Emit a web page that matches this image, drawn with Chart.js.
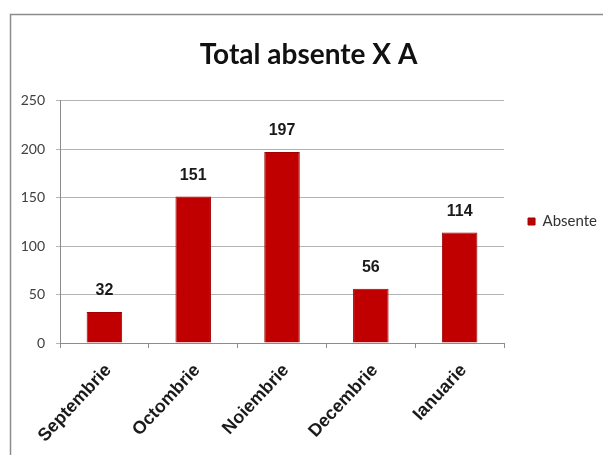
<!DOCTYPE html>
<html>
<head>
<meta charset="utf-8">
<script src="https://cdn.jsdelivr.net/npm/chart.js@4/dist/chart.umd.min.js"></script>
<style>
  html, body { margin: 0; padding: 0; background: #ffffff; }
  #wrap { position: relative; width: 603px; height: 455px; }
</style>
</head>
<body>
<div id="wrap"><canvas id="c" width="603" height="455"></canvas></div>
<script>
const categories = ["Septembrie", "Octombrie", "Noiembrie", "Decembrie", "Ianuarie"];
const absente = [32, 151, 197, 56, 114];
const seriesName = "Absente";
const chartTitle = "Total absente X A";
const yTicks = [0, 50, 100, 150, 200, 250];

const framePlugin = {
  id: 'frame',
  beforeDraw(chart) {
    const ctx = chart.ctx;
    ctx.save();
    ctx.fillStyle = '#ffffff';
    ctx.fillRect(0, 0, chart.width, chart.height);
    ctx.strokeStyle = '#8c8c8c';
    ctx.lineWidth = 1.5;
    ctx.beginPath();
    ctx.moveTo(10.5, chart.height);
    ctx.lineTo(10.5, 14.5);
    ctx.lineTo(chart.width, 14.5);
    ctx.stroke();
    ctx.restore();
  }
};

const valueLabels = {
  id: 'valueLabels',
  afterDatasetsDraw(chart) {
    const ctx = chart.ctx;
    const meta = chart.getDatasetMeta(0);
    ctx.save();
    ctx.font = 'bold 16px "Liberation Sans", Arial, sans-serif';
    ctx.fillStyle = '#1a1a1a';
    ctx.textAlign = 'center';
    ctx.textBaseline = 'middle';
    meta.data.forEach((bar, i) => {
      ctx.fillText(String(chart.data.datasets[0].data[i]), bar.x, bar.y - 21);
    });
    ctx.restore();
  }
};

new Chart(document.getElementById('c'), {
  type: 'bar',
  data: {
    labels: categories,
    datasets: [{
      label: seriesName,
      data: absente,
      backgroundColor: '#c00000',
      borderColor: '#a00000',
      borderWidth: 1,
      barPercentage: 0.8,
      categoryPercentage: 0.5
    }]
  },
  options: {
    responsive: false,
    animation: false,
    devicePixelRatio: 1,
    layout: { padding: { left: 10, right: -4, top: 0, bottom: 12 } },
    plugins: {
      title: {
        display: true,
        text: chartTitle,
        color: '#111111',
        font: { family: 'Lato, "DejaVu Sans Condensed", sans-serif', size: 28, weight: 'bold', lineHeight: 1.2 },
        padding: { top: 38, bottom: 29 }
      },
      legend: {
        display: true,
        position: 'right',
        align: 'center',
        labels: {
          boxWidth: 7,
          boxHeight: 7,
          padding: 24,
          color: '#333333',
          font: { family: 'Lato, sans-serif', size: 15 }
        }
      },
      tooltip: { enabled: false }
    },
    scales: {
      x: {
        grid: {
          display: true,
          drawOnChartArea: false,
          drawTicks: true,
          tickLength: 5,
          color: '#8c8c8c',
          offset: true
        },
        border: { display: true, color: '#8c8c8c', width: 1 },
        ticks: {
          maxRotation: 47,
          minRotation: 47,
          autoSkip: false,
          padding: 12,
          labelOffset: 4,
          color: '#1a1a1a',
          font: { family: '"Liberation Sans", Arial, sans-serif', size: 18, weight: 'bold' }
        },
        afterFit(scale) { scale.height = 100; }
      },
      y: {
        min: 0,
        max: 250,
        afterBuildTicks(scale) { scale.ticks = yTicks.map(v => ({ value: v })); },
        grid: {
          color: '#b4b4b4',
          tickLength: 4,
          drawTicks: true
        },
        border: { display: true, color: '#8c8c8c', width: 1 },
        ticks: {
          padding: 11,
          color: '#404040',
          font: { family: 'Lato, sans-serif', size: 14 }
        },
        afterFit(scale) { scale.width = 50; }
      }
    }
  },
  plugins: [framePlugin, valueLabels]
});
</script>
</body>
</html>
